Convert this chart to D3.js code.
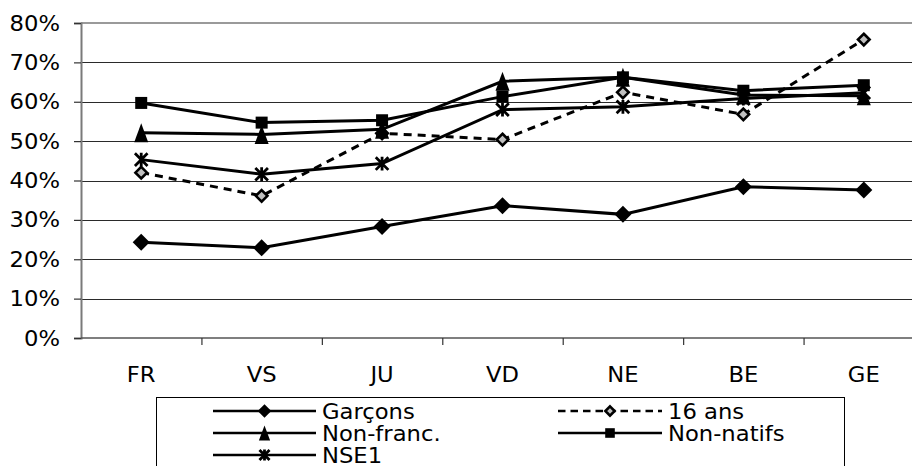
<!DOCTYPE html>
<html>
<head>
<meta charset="utf-8">
<script src="https://cdn.jsdelivr.net/npm/d3@7"></script>
<style>
  body { margin: 0; background: #fff; }
  text { font-family: "DejaVu Sans", Verdana, sans-serif; fill: #000; }
</style>
</head>
<body>
<div id="chart"></div>
<script>
let categories = ["FR", "VS", "JU", "VD", "NE", "BE", "GE"];
let garcons   = [24.3, 22.9, 28.3, 33.6, 31.4, 38.4, 37.6];
let seizeAns  = [42.0, 36.1, 52.0, 50.4, 62.4, 56.8, 75.8];
let nonFranc  = [52.1, 51.7, 53.0, 65.2, 66.2, 61.7, 61.5];
let nonNatifs = [59.7, 54.7, 55.3, 61.3, 66.2, 62.8, 64.2];
let nse1      = [45.3, 41.6, 44.3, 58.0, 58.7, 60.8, 62.3];
let yTicks = [0, 10, 20, 30, 40, 50, 60, 70, 80];

let seriesNames = ["Garçons", "16 ans", "Non-franc.", "Non-natifs", "NSE1"];
let seriesValues = [garcons, seizeAns, nonFranc, nonNatifs, nse1];
let seriesMarkers = ["diamond", "hollow", "triangle", "square", "star"];

let width = 912, height = 466;
let fontSize = 21, stretch = 1.08;

let svg = d3.select("#chart")
    .append("svg")
    .attr("width", width)
    .attr("height", height);

let x = d3.scaleBand()
    .domain(categories)
    .range([81, 924]);

let y = d3.scaleLinear()
    .domain([0, 80])
    .range([338, 23]);

// gridlines
svg.selectAll(".grid")
    .data(yTicks.slice(1, -1))
    .enter()
    .append("line")
    .attr("x1", 81).attr("x2", width)
    .attr("y1", function (d) { return Math.round(y(d)) + 0.5; })
    .attr("y2", function (d) { return Math.round(y(d)) + 0.5; })
    .style("stroke", "#2a2a2a")
    .style("stroke-width", 1.2);

// top border
svg.append("line")
    .attr("x1", 81).attr("x2", width)
    .attr("y1", y(80)).attr("y2", y(80))
    .style("stroke", "#9a9a9a")
    .style("stroke-width", 2);

// y axis
let yAxis = svg.append("g")
    .attr("transform", "translate(81,0)")
    .call(d3.axisLeft(y).tickValues(yTicks).tickSize(7).tickFormat(function (d) { return ""; }));
yAxis.select(".domain").style("stroke", "#7a7a7a").style("stroke-width", 2);
yAxis.selectAll(".tick line").style("stroke", "#333").style("stroke-width", 1.2);

svg.selectAll(".ylab")
    .data(yTicks)
    .enter()
    .append("text")
    .attr("transform", function (d) { return "translate(60," + (y(d) + 7.5) + ") scale(" + stretch + ",1)"; })
    .attr("text-anchor", "end")
    .attr("font-size", fontSize + "px")
    .text(function (d) { return d + "%"; });

// x axis
let xAxis = svg.append("g")
    .attr("transform", "translate(0,338)");
xAxis.append("line")
    .attr("x1", 81).attr("x2", width)
    .attr("y1", 0).attr("y2", 0)
    .style("stroke", "#555")
    .style("stroke-width", 1.6);
xAxis.selectAll(".xtick")
    .data(categories)
    .enter()
    .append("line")
    .attr("x1", function (d) { return x(d) + x.bandwidth() + 0.5; })
    .attr("x2", function (d) { return x(d) + x.bandwidth() + 0.5; })
    .attr("y1", 0).attr("y2", 7)
    .style("stroke", "#333")
    .style("stroke-width", 1.2);

svg.selectAll(".xlab")
    .data(categories)
    .enter()
    .append("text")
    .attr("transform", function (d) { return "translate(" + (x(d) + x.bandwidth() / 2) + ",382) scale(" + stretch + ",1)"; })
    .attr("text-anchor", "middle")
    .attr("font-size", fontSize + "px")
    .text(function (d) { return d; });

function cx(i) { return x(categories[i]) + x.bandwidth() / 2; }

function drawMarker(g, type, px, py, k) {
    if (type === "diamond") {
        let s = 8.5 * k;
        g.append("path")
            .attr("d", "M" + px + "," + (py - s) + "L" + (px + s) + "," + py + "L" + px + "," + (py + s) + "L" + (px - s) + "," + py + "Z")
            .style("fill", "#000");
    } else if (type === "hollow") {
        let h = 5.8 * k;
        g.append("path")
            .attr("d", "M" + px + "," + (py - h) + "L" + (px + h) + "," + py + "L" + px + "," + (py + h) + "L" + (px - h) + "," + py + "Z")
            .style("fill", "#c0c0c0")
            .style("stroke", "#000")
            .style("stroke-width", 2.6);
    } else if (type === "square") {
        let h = 6 * k;
        g.append("rect")
            .attr("x", px - h).attr("y", py - h)
            .attr("width", 2 * h).attr("height", 2 * h)
            .style("fill", "#000");
    } else if (type === "triangle") {
        let w = 7 * k, hh = 9.5 * k;
        g.append("path")
            .attr("d", "M" + px + "," + (py - hh) + "L" + (px + w) + "," + (py + hh) + "L" + (px - w) + "," + (py + hh) + "Z")
            .style("fill", "#000");
    } else if (type === "star") {
        let h = 6.3 * k;
        g.append("path")
            .attr("d", "M" + (px - h) + "," + (py - h) + "L" + (px + h) + "," + (py + h) +
                "M" + (px + h) + "," + (py - h) + "L" + (px - h) + "," + (py + h) +
                "M" + px + "," + (py - h * 1.1) + "L" + px + "," + (py + h * 1.1))
            .style("stroke", "#000")
            .style("stroke-width", 2.8)
            .style("fill", "none");
    }
}

let line = d3.line()
    .x(function (d, i) { return cx(i); })
    .y(function (d) { return y(d); });

// series lines
seriesValues.forEach(function (vals, k) {
    svg.append("path")
        .datum(vals)
        .attr("d", line)
        .style("fill", "none")
        .style("stroke", "#000")
        .style("stroke-width", 3)
        .style("stroke-dasharray", k === 1 ? "8,6" : null);
});

// markers
let markers = svg.append("g");
seriesValues.forEach(function (vals, k) {
    vals.forEach(function (v, i) {
        drawMarker(markers, seriesMarkers[k], cx(i), y(v), 1);
    });
});

// legend
let legend = svg.append("g");
legend.append("rect")
    .attr("x", 156.5).attr("y", 397.5)
    .attr("width", 688).attr("height", 90)
    .style("fill", "#fff")
    .style("stroke", "#000")
    .style("stroke-width", 1);

let legendCols = [[213, 316, 322], [558, 662, 668]];
seriesNames.forEach(function (name, k) {
    let col = legendCols[k % 2];
    let ly = 411 + Math.floor(k / 2) * 22;
    legend.append("line")
        .attr("x1", col[0]).attr("x2", col[1])
        .attr("y1", ly).attr("y2", ly)
        .style("stroke", "#000")
        .style("stroke-width", 2.5)
        .style("stroke-dasharray", k === 1 ? "7.5,5" : null);
    drawMarker(legend, seriesMarkers[k], (col[0] + col[1]) / 2, ly, 0.8);
    legend.append("text")
        .attr("transform", "translate(" + col[2] + "," + (ly + 8) + ") scale(" + stretch + ",1)")
        .attr("font-size", fontSize + "px")
        .text(name);
});
</script>
</body>
</html>
